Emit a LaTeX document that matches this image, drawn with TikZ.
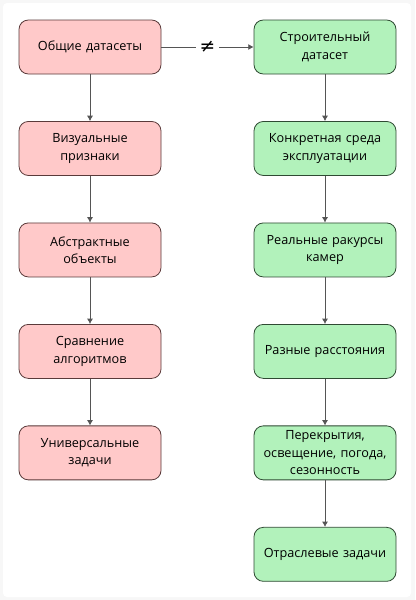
\documentclass[tikz,border=0pt]{standalone}
\usepackage{fontspec}
\setmainfont{Open Sans}
\newfontfamily\symfont{DejaVu Sans}
\usetikzlibrary{positioning,arrows.meta}
\definecolor{pinkfill}{HTML}{FFC9C9}
\definecolor{pinkline}{HTML}{5A3A3A}
\definecolor{greenfill}{HTML}{B2F2BB}
\definecolor{greenline}{HTML}{2F4A33}
\definecolor{arrowgray}{HTML}{555555}
\begin{document}
\begin{tikzpicture}[x=0.75pt,y=-0.75pt,
    box/.style={rounded corners=7pt, minimum width=106.5pt, minimum height=40.5pt,
      text width=100pt, inner xsep=3pt, inner ysep=0.5pt, align=center,
      font=\fontsize{9.5}{13}\selectfont, line width=0.6pt},
    leftbox/.style={box, draw=pinkline, fill=pinkfill},
    rightbox/.style={box, draw=greenline, fill=greenfill},
    arr/.style={draw=arrowgray, line width=0.6pt, -{Latex[length=4pt,width=4.5pt]}},
    node distance=35pt]
    \useasboundingbox (0,0) rectangle (415,600);
    \fill[gray!6] (0,0) rectangle (415,600);
    \fill[white,rounded corners=3pt] (3,3) rectangle (411,597);

    \node[leftbox] (gen) at (90,47) {Общие датасеты};
    \node[leftbox, below=of gen] (vis) {Визуальные\\признаки};
    \node[leftbox, below=of vis] (abs) {Абстрактные\\объекты};
    \node[leftbox, below=of abs] (cmp) {Сравнение\\алгоритмов};
    \node[leftbox, below=of cmp] (univ) {Универсальные\\задачи};

    \node[rightbox] (build) at (325,47) {Строительный\\датасет};
    \node[rightbox, below=of build] (env) {Конкретная среда\\эксплуатации};
    \node[rightbox, below=of env] (cam) {Реальные ракурсы\\камер};
    \node[rightbox, below=of cam] (dist) {Разные расстояния};
    \node[rightbox, below=of dist] (occl) {Перекрытия,\\освещение, погода,\\сезонность};
    \node[rightbox, below=of occl] (ind) {Отраслевые задачи};

    \draw[arr] (gen) -- (build) node[midway,fill=white,inner sep=3pt,font=\symfont\fontsize{14}{14}\selectfont]{≠};
    \foreach \a/\b in {gen/vis,vis/abs,abs/cmp,cmp/univ,build/env,env/cam,cam/dist,dist/occl,occl/ind}
      \draw[arr] (\a) -- (\b);
\end{tikzpicture}
\end{document}
